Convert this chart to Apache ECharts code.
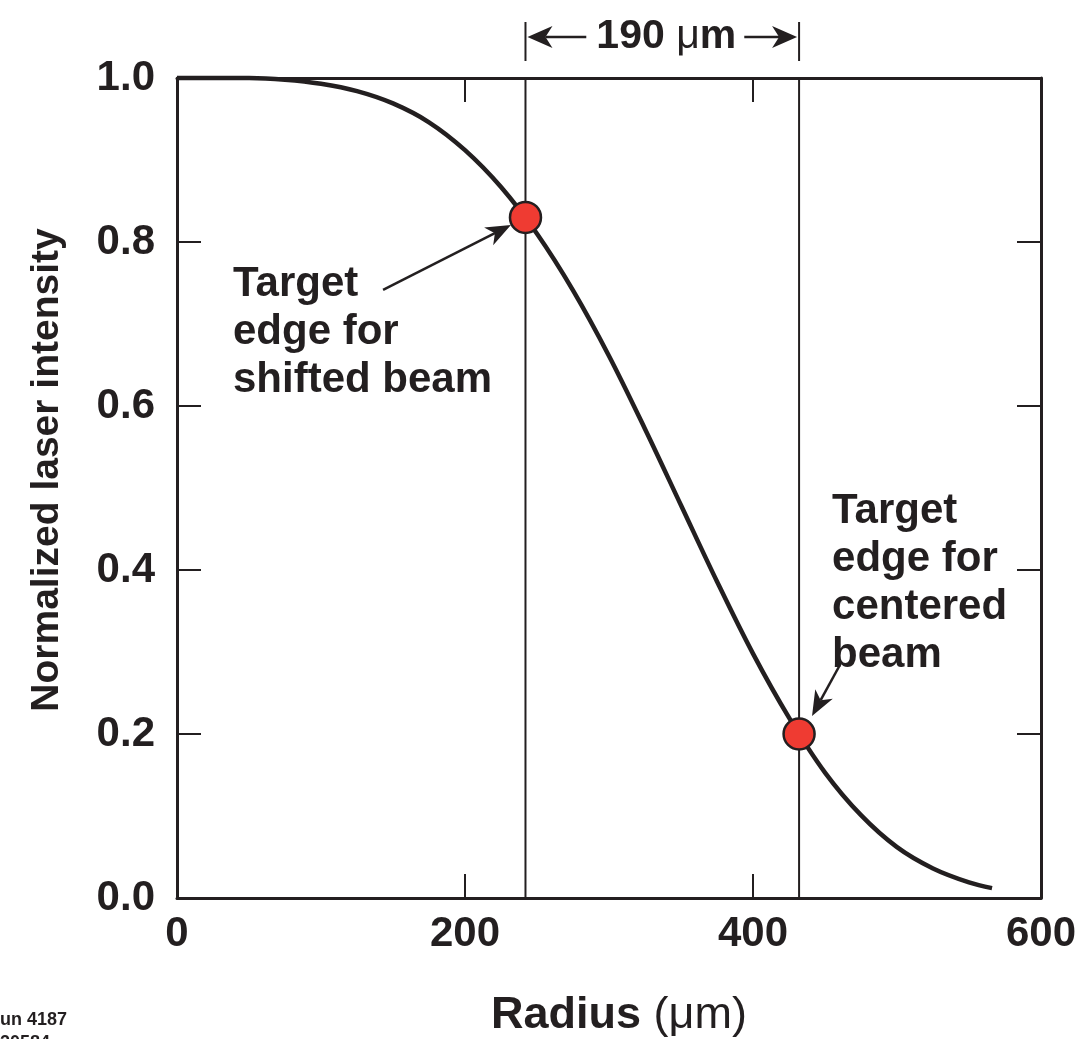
<!DOCTYPE html>
<html>
<head>
<meta charset="utf-8">
<script src="https://cdn.jsdelivr.net/npm/echarts@6/dist/echarts.min.js"></script>
<style>
html,body{margin:0;padding:0;background:#fff;}
#c{width:1080px;height:1039px;}
</style>
</head>
<body>
<div id="c"></div>
<script>
// ---- data ----
const radius = [0,25,50,75,100,125,150,175,200,225,250,275,300,325,350,375,400,425,450,475,500,525,550,566];
const intensity = [1.000,1.000,1.000,0.998,0.993,0.984,0.969,0.946,0.912,0.867,0.810,0.741,0.661,0.572,0.479,0.386,0.298,0.220,0.153,0.101,0.062,0.036,0.019,0.012];
const edgeRadius = [242, 432];
const edgeIntensity = [0.83, 0.20];
const xTicks = [0, 200, 400, 600];
const yTicks = [0.0, 0.2, 0.4, 0.6, 0.8, 1.0];
const spacingLabel = '190';
const labelShifted = ['Target', 'edge for', 'shifted beam'];
const labelCentered = ['Target', 'edge for', 'centered', 'beam'];

const INK = '#231f20';
const RED = '#ef3b32';
const FONT = "'Liberation Sans', Arial, Helvetica, sans-serif";

const chart = echarts.init(document.getElementById('c'), null, {renderer: 'canvas'});

const curve = radius.map((r, i) => [r, intensity[i]]);
const series = [
  {
    type: 'line', data: curve, smooth: 0.35, symbol: 'none',
    lineStyle: {color: INK, width: 4.5}, z: 3, clip: false
  }
];
edgeRadius.forEach((r) => {
  series.push({
    type: 'line', data: [[r, yTicks[0]], [r, yTicks[yTicks.length - 1]]], symbol: 'none',
    lineStyle: {color: INK, width: 2}, z: 2
  });
});
series.push({
  type: 'scatter', data: edgeRadius.map((r, i) => [r, edgeIntensity[i]]),
  symbolSize: 31, itemStyle: {color: RED, borderColor: INK, borderWidth: 2.5, opacity: 1}, z: 5
});

const xMin = xTicks[0], xMax = xTicks[xTicks.length - 1];
const yMin = yTicks[0], yMax = yTicks[yTicks.length - 1];

function axisCommon(showLabel, isX) {
  return {
    type: 'value', min: isX ? xMin : yMin, max: isX ? xMax : yMax,
    interval: isX ? 200 : 0.2,
    axisLine: {show: true, onZero: false, lineStyle: {color: INK, width: 3}},
    axisTick: {show: true, inside: true, length: 24, lineStyle: {color: INK, width: 2}},
    splitLine: {show: false},
    axisLabel: showLabel ? {
      show: true, color: INK, fontFamily: FONT, fontWeight: 'bold', fontSize: 42,
      margin: isX ? 15 : 22,
      formatter: (v) => isX ? String(Math.round(v)) : v.toFixed(1)
    } : {show: false}
  };
}

chart.setOption({
  animation: false,
  backgroundColor: '#ffffff',
  grid: {left: 177, right: 39, top: 78, bottom: 141},
  xAxis: [
    Object.assign({position: 'bottom'}, axisCommon(true, true)),
    Object.assign({position: 'top'}, axisCommon(false, true))
  ],
  yAxis: [
    Object.assign({position: 'left'}, axisCommon(true, false)),
    Object.assign({position: 'right'}, axisCommon(false, false))
  ],
  series: series
});

// ---- annotations positioned through the chart's own scales ----
function px(x, y) { return chart.convertToPixel({gridIndex: 0}, [x, y]); }

function arrow(tail, tip, L, W, notch, width) {
  const dx = tip[0] - tail[0], dy = tip[1] - tail[1];
  const d = Math.sqrt(dx * dx + dy * dy);
  const ux = dx / d, uy = dy / d, nx = -uy, ny = ux;
  const bx = tip[0] - L * ux, by = tip[1] - L * uy;
  const mx = tip[0] - notch * L * ux, my = tip[1] - notch * L * uy;
  return [
    {type: 'line', shape: {x1: tail[0], y1: tail[1], x2: mx, y2: my},
     style: {stroke: INK, lineWidth: width}, z: 20},
    {type: 'polygon', shape: {points: [[tip[0], tip[1]], [bx + W * nx, by + W * ny], [mx, my], [bx - W * nx, by - W * ny]]},
     style: {fill: INK}, z: 20}
  ];
}

const g = [];
const gTop = px(0, yMax)[1];
const xa = px(edgeRadius[0], yMax)[0];
const xb = px(edgeRadius[1], yMax)[0];
const yArr = gTop - 41;
// bracket ticks
g.push({type: 'line', shape: {x1: xa, y1: gTop - 56, x2: xa, y2: gTop - 17}, style: {stroke: INK, lineWidth: 2}});
g.push({type: 'line', shape: {x1: xb, y1: gTop - 56, x2: xb, y2: gTop - 17}, style: {stroke: INK, lineWidth: 2}});
const midX = (xa + xb) / 2 + 4;
g.push(...arrow([midX - 80, yArr], [xa + 2, yArr], 25, 11, 0.72, 2.5));
g.push(...arrow([midX + 78, yArr], [xb - 2, yArr], 25, 11, 0.72, 2.5));
g.push({
  type: 'text', x: midX, y: yArr, z: 20,
  style: {
    text: '{b|' + spacingLabel + ' }{r|\u03bc}{b|m}', align: 'center', verticalAlign: 'middle',
    rich: {
      b: {fontFamily: FONT, fontWeight: 'bold', fontSize: 41, fill: INK},
      r: {fontFamily: FONT, fontWeight: 'normal', fontSize: 41, fill: INK}
    }
  }
});

// annotation arrows (data-space tail/tip)
g.push(...arrow(px(143.1, 0.7415), px(231.9, 0.8207), 25, 10, 0.72, 2.5));
g.push(...arrow(px(461.1, 0.2866), px(441.0, 0.2220), 25, 10, 0.72, 2.5));

const t1 = px(38.9, 0.777);
g.push({type: 'text', x: t1[0], y: t1[1], z: 20,
  style: {text: labelShifted.join('\n'), fontFamily: FONT, fontWeight: 'bold', fontSize: 42,
    lineHeight: 48, fill: INK, align: 'left', verticalAlign: 'top'}});
const t2 = px(454.9, 0.501);
g.push({type: 'text', x: t2[0], y: t2[1], z: 20,
  style: {text: labelCentered.join('\n'), fontFamily: FONT, fontWeight: 'bold', fontSize: 42,
    lineHeight: 48, fill: INK, align: 'left', verticalAlign: 'top'}});

// axis titles
const gBottom = px(0, yMin)[1];
const cx = (px(xMin, 0)[0] + px(xMax, 0)[0]) / 2 + 10;
g.push({type: 'text', x: cx, y: gBottom + 118, z: 20,
  style: {text: '{b|Radius }{r|(\u03bcm)}', align: 'center', verticalAlign: 'middle',
    rich: {
      b: {fontFamily: FONT, fontWeight: 'bold', fontSize: 45, fill: INK},
      r: {fontFamily: FONT, fontWeight: 'normal', fontSize: 45, fill: INK}
    }}});
g.push({type: 'text', x: 47, y: (gTop + gBottom) / 2 - 18, rotation: Math.PI / 2, z: 20,
  style: {text: 'Normalized laser intensity', fontFamily: FONT, fontWeight: 'bold', fontSize: 39,
    fill: INK, align: 'center', verticalAlign: 'middle'}});

// figure id (cut at the page edge)
g.push({type: 'text', x: -13, y: 1020, z: 20,
  style: {text: 'Run 4187', fontFamily: FONT, fontWeight: 'bold', fontSize: 18, fill: INK,
    align: 'left', verticalAlign: 'middle'}});
g.push({type: 'text', x: -12, y: 1043, z: 20,
  style: {text: 'E20584', fontFamily: FONT, fontWeight: 'bold', fontSize: 18, fill: INK,
    align: 'left', verticalAlign: 'middle'}});

chart.setOption({graphic: g});
</script>
</body>
</html>
